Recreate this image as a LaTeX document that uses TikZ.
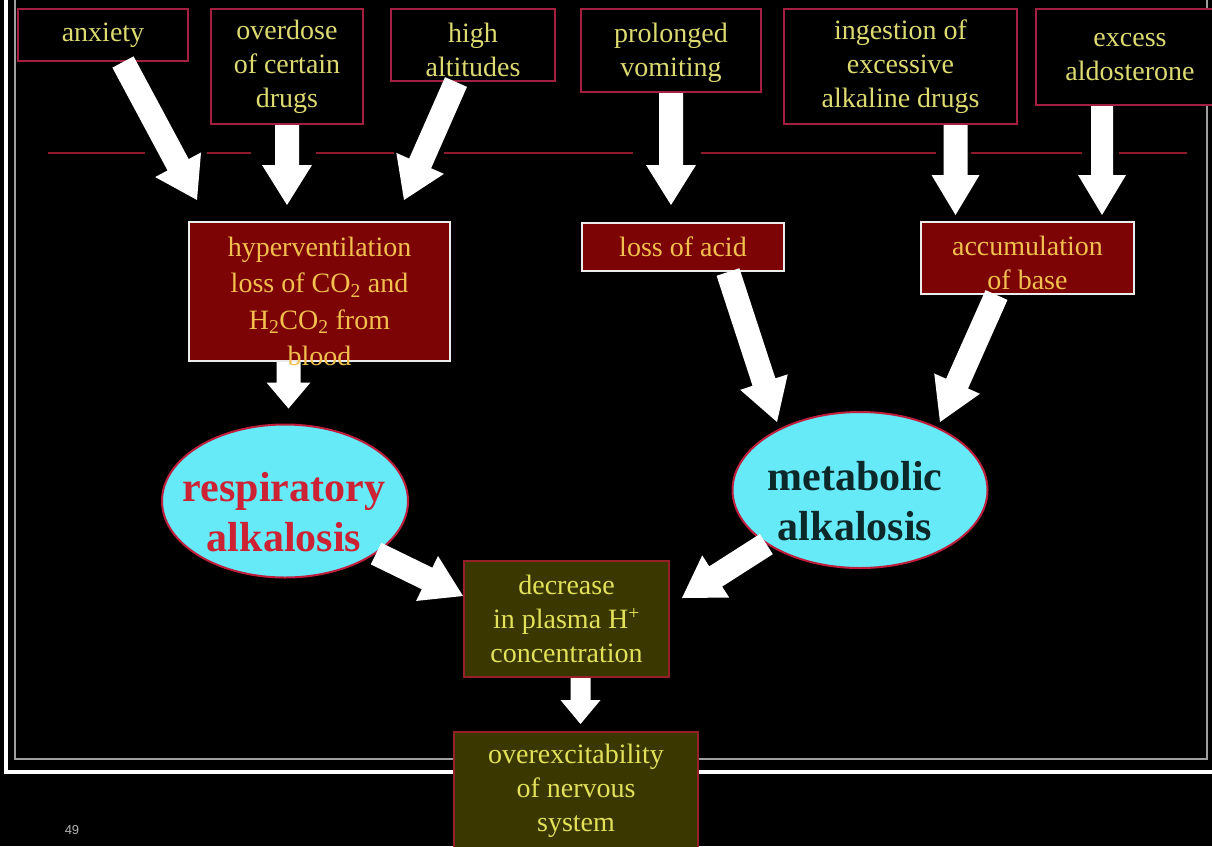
\documentclass[tikz,border=0pt]{standalone}
\usepackage{fontspec}
\setmainfont{Liberation Serif}
\setsansfont{Liberation Sans}
\usetikzlibrary{calc,shapes.geometric}
\definecolor{topred}{HTML}{A52040}
\definecolor{lineRed}{HTML}{8E1A2C}
\definecolor{maroonfill}{HTML}{7C0404}
\definecolor{olivefill}{HTML}{3A3800}
\definecolor{oliveedge}{HTML}{962028}
\definecolor{cyanfill}{HTML}{66EAF8}
\definecolor{ellEdge}{HTML}{C01E3C}
\definecolor{topText}{HTML}{DCDA70}
\definecolor{goldText}{HTML}{F2C04E}
\definecolor{respText}{HTML}{CC2234}
\definecolor{metaText}{HTML}{0C2828}
\newcommand{\fatarrow}[5]{%
  \coordinate (faS) at #1;
  \coordinate (faE) at #2;
  \coordinate (faH) at ($(faE)!#5!(faS)$);
  \fill[white] ($(faS)!#3!90:(faE)$) -- ($(faH)!#3!90:(faE)$) -- ($(faH)!#4!90:(faE)$) -- (faE)
     -- ($(faH)!#4!-90:(faE)$) -- ($(faH)!#3!-90:(faE)$) -- ($(faS)!#3!-90:(faE)$) -- cycle;}
\newcommand{\lift}[1]{\rule{0pt}{#1}}
\tikzset{
  txt/.style={font=\fontsize{28}{34}\selectfont, align=center},
  topbox/.style={txt, rectangle, draw=topred, line width=2pt, fill=black, text=topText, anchor=north west, inner sep=0pt},
  midbox/.style={txt, rectangle, draw=white!85!gray, line width=2pt, fill=maroonfill, text=goldText, anchor=north west, inner sep=0pt},
  botbox/.style={txt, rectangle, draw=oliveedge, line width=2pt, fill=olivefill, text=topText!80!yellow, anchor=north west, inner sep=0pt},
  oval/.style={ellipse, draw=ellEdge, line width=2pt, fill=cyanfill, inner sep=0pt},
  ovaltext/.style={align=center, inner sep=0pt, font=\bfseries\fontsize{42}{50}\selectfont},
  sep/.style={draw=lineRed, line width=2.5pt}
}
\begin{document}
\begin{tikzpicture}[x=1pt,y=-1pt]
\fill[black] (0,0) rectangle (1212,846);
\useasboundingbox (0,0) rectangle (1212,846);
% frame
\draw[white, line width=4pt] (6,-10) -- (6,772) -- (1230,772);
\draw[gray!75, line width=2pt] (15,-10) -- (15,759) -- (1207,759) -- (1207,-10);
% separator line
\foreach \a/\b in {48/145, 207/251, 316/394, 444/633, 701/936, 971/1082, 1119/1187}
  \draw[sep] (\a,153) -- (\b,153);
% top boxes
\node[topbox, minimum width=170pt, minimum height=52pt] (anx) at (17,8) {anxiety};
\node[topbox, minimum width=152pt, minimum height=115pt] (ovd) at (210,8) {overdose\\of certain\\drugs};
\node[topbox, minimum width=164pt, minimum height=72pt] (alt) at (390,8) {\lift{30pt}high\\altitudes};
\node[topbox, minimum width=180pt, minimum height=83pt] (vom) at (580,8) {\lift{24pt}prolonged\\vomiting};
\node[topbox, minimum width=233pt, minimum height=115pt] (ing) at (783,8) {ingestion of\\excessive\\alkaline drugs};
\node[topbox, minimum width=188pt, minimum height=96pt] (ald) at (1035,8) {excess\\aldosterone};
% middle boxes
\node[midbox, minimum width=261pt, minimum height=139pt] (hyp) at (188,221) {};
\node[midbox, minimum width=202pt, minimum height=48pt] (acid) at (581,222) {loss of acid};
\node[midbox, minimum width=213pt, minimum height=72pt] (acc) at (920,221) {\lift{30pt}accumulation\\of base};
% ellipses
\node[oval, minimum width=246pt, minimum height=153pt] (resp) at (285,501) {};
\node[ovaltext, text=respText] (resptxt) at (284,512) {respiratory\\alkalosis};
\node[oval, minimum width=255pt, minimum height=156pt] (meta) at (860,490) {};
\node[ovaltext, text=metaText] (metatxt) at (855,501) {metabolic\\alkalosis};
% bottom boxes
\node[botbox, minimum width=205pt, minimum height=116pt] (dec) at (463,560) {decrease\\in plasma H\textsuperscript{+}\\concentration};
\node[botbox, minimum width=244pt, minimum height=118pt] (ovx) at (453,731) {overexcitability\\of nervous\\system};
% arrows
\fatarrow{([xshift=20pt]anx.south)}{([xshift=9pt,yshift=21pt]hyp.north west)}{12pt}{26pt}{40pt}
\fatarrow{(ovd.south)}{($(hyp.north -| ovd.south)+(0pt,16pt)$)}{12pt}{25pt}{40pt}
\fatarrow{([xshift=-17pt]alt.south)}{([xshift=-47pt,yshift=21pt]hyp.north east)}{12pt}{26pt}{40pt}
\fatarrow{(vom.south)}{($(acid.north -| vom.south)+(0pt,17pt)$)}{12pt}{25pt}{40pt}
\fatarrow{([xshift=55pt]ing.south)}{($(acc.north -| ing.south)+(55pt,6pt)$)}{12pt}{24pt}{40pt}
\fatarrow{([xshift=-28pt]ald.south)}{($(acc.north -| ald.south)+(-28pt,6pt)$)}{11pt}{24pt}{40pt}
\fatarrow{([xshift=-31pt]hyp.south)}{($(resp.north -| hyp.south)+(-31pt,15pt)$)}{12pt}{22pt}{26pt}
\fatarrow{([xshift=45pt]acid.south)}{([xshift=-83pt,yshift=-11pt]meta.north)}{12pt}{25pt}{42pt}
\fatarrow{([xshift=-31pt]acc.south)}{([xshift=80pt,yshift=-11pt]meta.north)}{12pt}{25pt}{42pt}
\fatarrow{(resp.-30)}{([yshift=23pt]dec.west)}{12pt}{25pt}{40pt}
\fatarrow{(meta.-150)}{([xshift=12pt,yshift=21pt]dec.east)}{12pt}{25pt}{40pt}
\fatarrow{([xshift=14pt]dec.south)}{($(ovx.north -| dec.south)+(14pt,7pt)$)}{10pt}{20pt}{24pt}
% hyperventilation text (on top of arrow)
\node[txt, text=goldText, font=\fontsize{28}{36.5}\selectfont, inner sep=0pt] (hyptxt) at ($(hyp.center)+(0pt,-10pt)$)
  {hyperventilation\\loss of CO\textsubscript{2} and\\H\textsubscript{2}CO\textsubscript{2} from\\blood};
\node[font=\sffamily\fontsize{13}{15}\selectfont, text=gray!60] (pg) at (72,830) {49};
\end{tikzpicture}
\end{document}
